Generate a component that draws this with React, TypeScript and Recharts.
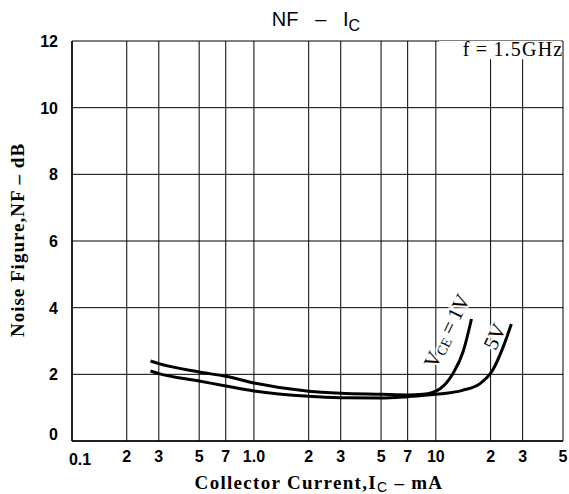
import React from 'react';
import { LineChart, Line, XAxis, YAxis, CartesianGrid, ReferenceDot, ReferenceArea, Customized } from 'recharts';

// x ticks on the log axis (mA) and their printed labels
const xTicks = [0.1, 0.2, 0.3, 0.5, 0.7, 1, 2, 3, 5, 7, 10, 20, 30, 50];
const xTickLabels = ['0.1', '2', '3', '5', '7', '1.0', '2', '3', '5', '7', '10', '2', '3', '5'];
const yTicks = [0, 2, 4, 6, 8, 10, 12];

// VCE = 1V
const ic1V = [0.27, 0.3, 0.5, 0.7, 1, 2, 3, 5, 7, 8.5, 9.5, 10.5, 12.4, 14.1, 15.7];
const nf1V = [2.4, 2.32, 2.07, 1.94, 1.74, 1.49, 1.43, 1.4, 1.38, 1.4, 1.45, 1.56, 2.02, 2.67, 3.66];

// VCE = 5V
const ic5V = [0.27, 0.3, 0.5, 0.7, 1, 2, 3, 5, 7, 10, 14, 17.5, 20.5, 23.4, 26];
const nf5V = [2.1, 2.02, 1.8, 1.65, 1.5, 1.34, 1.3, 1.29, 1.33, 1.4, 1.52, 1.72, 2.12, 2.81, 3.51];

const data1V = ic1V.map((x, i) => ({ x, y: nf1V[i] }));
const data5V = ic5V.map((x, i) => ({ x, y: nf5V[i] }));

const SANS = '"Liberation Sans", Arial, sans-serif';
const SERIF = '"Liberation Serif", "Times New Roman", serif';

const XTick = (props: any) => {
    const { x, y, payload } = props;
    const i = xTicks.indexOf(payload.value);
    const label = xTickLabels[i] ?? '';
    const dx = i === 0 ? 8 : 0;
    const dy = i === 0 ? 16 : 13;
    return (
        <text x={x + dx} y={y + dy} textAnchor="middle" fontFamily={SANS} fontWeight="bold" fontSize={16} fill="#000">
            {label}
        </text>
    );
};

const YTick = (props: any) => {
    const { x, y, payload } = props;
    const dy = payload.value === 0 ? -1 : 6;
    return (
        <text x={x - 6} y={y + dy} textAnchor="end" fontFamily={SANS} fontWeight="bold" fontSize={16} fill="#000">
            {payload.value}
        </text>
    );
};

const CurveLabel = ({ viewBox, parts }: any) => {
    const cx = viewBox.x + (viewBox.width || 0) / 2;
    const cy = viewBox.y + (viewBox.height || 0) / 2;
    return (
        <text
            x={cx}
            y={cy}
            textAnchor="middle"
            dominantBaseline="central"
            transform={`rotate(-64 ${cx} ${cy})`}
            fontFamily={SERIF}
            fontSize={21}
            fill="#000"
            stroke="#fff"
            strokeWidth={4}
            paintOrder="stroke"
        >
            {parts}
        </text>
    );
};

const FreqLabel = ({ viewBox }: any) => (
    <text x={viewBox.x + viewBox.width + 2} y={viewBox.y + 15} textAnchor="end" fontFamily={SERIF} fontSize={20} letterSpacing={1.2} fill="#000">
        f{'\u2009'}={'\u2009'}1.5GHz
    </text>
);

const Titles = () => (
    <g>
        <text x={316} y={26} textAnchor="middle" fontFamily={SANS} fontSize={20} fill="#000">
            NF{'\u00a0\u00a0\u00a0'}–{'\u00a0\u00a0\u00a0'}I
            <tspan dy={5} fontSize={16}>C</tspan>
        </text>
        <text x={319} y={489} textAnchor="middle" fontFamily={SERIF} fontWeight="bold" fontSize={19} letterSpacing={1.3} fill="#000">
            Collector Current,I
            <tspan dy={3} fontSize={14} fontFamily={SANS} fontWeight="normal">C</tspan>
            <tspan dy={-3}>{' \u2013 mA'}</tspan>
        </text>
        <text x={0} y={0} transform="translate(24 240) rotate(-90)" textAnchor="middle" fontFamily={SERIF} fontWeight="bold" fontSize={19} letterSpacing={1} fill="#000">
            {'Noise Figure,NF \u2013 dB'}
        </text>
    </g>
);

export default function App() {
    return (
        <div style={{ position: 'absolute', left: 0, top: 0, background: '#fff' }}>
            <LineChart width={569} height={494} margin={{ top: 41, right: 6, bottom: 0, left: 0 }}>
                <CartesianGrid stroke="#000" strokeWidth={1} />
                <XAxis
                    dataKey="x"
                    type="number"
                    scale="log"
                    domain={[0.1, 50]}
                    ticks={xTicks}
                    allowDataOverflow
                    height={53}
                    tickLine={false}
                    axisLine={{ stroke: '#000', strokeWidth: 1.5 }}
                    tick={<XTick />}
                    interval={0}
                />
                <YAxis
                    type="number"
                    domain={[0, 12]}
                    ticks={yTicks}
                    width={72}
                    tickLine={false}
                    axisLine={{ stroke: '#000', strokeWidth: 1.5 }}
                    tick={<YTick />}
                    interval={0}
                />
                <ReferenceArea x1={10.4} x2={49} y1={11.45} y2={12} fill="#fff" fillOpacity={1} stroke="none" label={<FreqLabel />} />
                <Line data={data1V} dataKey="y" type="monotone" stroke="#000" strokeWidth={3} dot={false} isAnimationActive={false} />
                <Line data={data5V} dataKey="y" type="monotone" stroke="#000" strokeWidth={3} dot={false} isAnimationActive={false} />
                <ReferenceDot
                    x={11.5}
                    y={3.3}
                    r={0}
                    fill="none"
                    stroke="none"
                    label={
                        <CurveLabel
                            parts={[
                                'V',
                                <tspan key="s" dy={4} fontSize={14}>CE</tspan>,
                                <tspan key="r" dy={-4}>{'\u2009=\u20091V'}</tspan>,
                            ]}
                        />
                    }
                />
                <ReferenceDot x={21.1} y={3.13} r={0} fill="none" stroke="none" label={<CurveLabel parts={['5V']} />} />
                <Customized component={Titles} />
            </LineChart>
        </div>
    );
}
